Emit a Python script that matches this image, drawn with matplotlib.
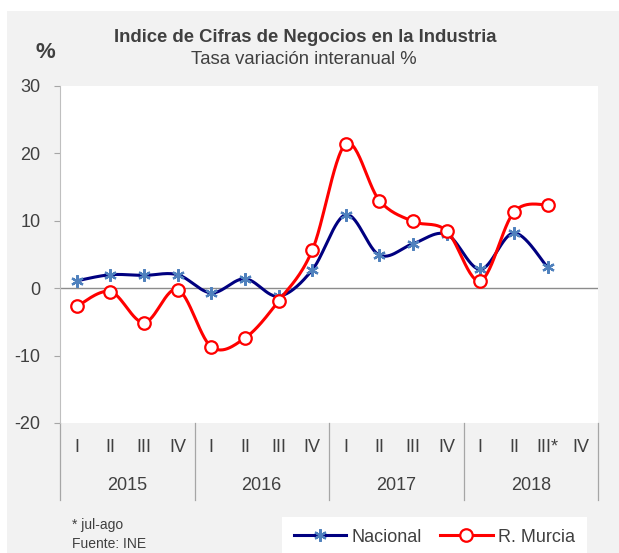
import numpy as np
import matplotlib
matplotlib.use("Agg")
import matplotlib.pyplot as plt
from matplotlib.patches import Rectangle
from matplotlib.lines import Line2D
import matplotlib.transforms as mtransforms

plt.rcParams['font.family'] = ['Liberation Sans', 'DejaVu Sans']

years = ["2015", "2016", "2017", "2018"]
quarters = ["I", "II", "III", "IV", "I", "II", "III", "IV",
            "I", "II", "III", "IV", "I", "II", "III*", "IV"]
nacional = [1.1, 2.0, 1.9, 2.0, -0.7, 1.4, -1.2, 2.7,
            10.9, 4.9, 6.6, 8.0, 2.8, 8.2, 3.1]
murcia = [-2.7, -0.5, -5.1, -0.2, -8.7, -7.4, -1.9, 5.6,
          21.4, 13.0, 9.9, 8.5, 1.1, 11.3, 12.4]
yticks = [-20, -10, 0, 10, 20, 30]

TXT = "#404040"


def smooth(y, n=30):
    """Catmull-Rom (Excel-like) smoothing between consecutive points."""
    y = np.asarray(y, float)
    x = np.arange(len(y), dtype=float)
    P = np.column_stack([x, y])
    out = []
    for i in range(len(P) - 1):
        p0 = P[i - 1] if i > 0 else P[i]
        p1, p2 = P[i], P[i + 1]
        p3 = P[i + 2] if i + 2 < len(P) else P[i + 1]
        c1 = p1 + (p2 - p0) / 6.0
        c2 = p2 - (p3 - p1) / 6.0
        t = np.linspace(0, 1, n)[:, None]
        seg = ((1 - t) ** 3) * p1 + 3 * ((1 - t) ** 2) * t * c1 + 3 * (1 - t) * t ** 2 * c2 + t ** 3 * p2
        out.append(seg if i == 0 else seg[1:])
    s = np.vstack(out)
    return s[:, 0], s[:, 1]


W, H = 619, 553
fig = plt.figure(figsize=(W / 100, H / 100), dpi=100)
fig.patch.set_facecolor("white")
fig.patches.append(Rectangle((7 / W, 0), 1 - 7 / W, 1 - 11 / H, transform=fig.transFigure,
                             facecolor="#F2F2F2", edgecolor="none", zorder=-10))

ax_l, ax_r, ax_t, ax_b = 60, 598, 86, 423
ax = fig.add_axes([ax_l / W, 1 - ax_b / H, (ax_r - ax_l) / W, (ax_b - ax_t) / H])
ax.set_facecolor("white")
ax.set_xlim(-0.5, len(quarters) - 0.5)
ax.set_ylim(-20, 30)
ax.set_yticks(yticks)
ax.set_yticklabels([str(v) for v in yticks])
ax.tick_params(axis="y", length=4, width=0.8, color="#A6A6A6", pad=10, labelsize=13, labelcolor=TXT)
ax.set_xticks([])
for s in ["top", "right", "bottom"]:
    ax.spines[s].set_visible(False)
ax.spines["left"].set_color("#BFBFBF")
ax.spines["left"].set_linewidth(0.8)
ax.axhline(0, color="#8C8C8C", lw=1.0, zorder=1)

xs, ys = smooth(nacional)
ax.plot(xs, ys, color="#000080", lw=2.2, zorder=3, solid_capstyle="round")
ax.plot(np.arange(len(nacional)), nacional, ls="none", marker=(6, 2, 0), ms=9,
        mew=1.6, mec="#4F81BD", color="#4F81BD", zorder=4)
xs, ys = smooth(murcia)
ax.plot(xs, ys, color="#FF0000", lw=2.2, zorder=5, solid_capstyle="round")
ax.plot(np.arange(len(murcia)), murcia, ls="none", marker="o", ms=9,
        mfc="white", mec="#FF0000", mew=1.6, zorder=6)

# multi-level category axis
trans = mtransforms.blended_transform_factory(ax.transData, ax.transAxes)
h = ax_b - ax_t
q_y = (ax_b - 448) / h
y_y = (ax_b - 486) / h
sep_y = (ax_b - 500) / h
for i, q in enumerate(quarters):
    ax.text(i, q_y, q, transform=trans, ha="center", va="center", fontsize=13,
            color=TXT, clip_on=False)
for j, yr in enumerate(years):
    ax.text(4 * j + 1.5, y_y, yr, transform=trans, ha="center", va="center", fontsize=13,
            color=TXT, clip_on=False)
for b in [-0.5, 3.5, 7.5, 11.5, 15.5]:
    ax.add_line(Line2D([b, b], [0, sep_y], transform=trans, color="#A6A6A6", lw=0.9,
                       clip_on=False))

# titles
fig.text(305 / W, 1 - 37 / H, "Indice de Cifras de Negocios en la Industria", ha="center",
         va="center", fontsize=13.3, fontweight="bold", color=TXT)
fig.text(304 / W, 1 - 59 / H, "Tasa variación interanual %", ha="center", va="center",
         fontsize=13.3, color=TXT)
fig.text(45 / W, 1 - 53 / H, "%", ha="center", va="center", fontsize=16, fontweight="bold",
         color=TXT)

# footnotes
fig.text(72 / W, 1 - 525 / H, "* jul-ago", ha="left", va="center", fontsize=10, color=TXT)
fig.text(72 / W, 1 - 544 / H, "Fuente: INE", ha="left", va="center", fontsize=10, color=TXT)

# legend
fig.patches.append(Rectangle((282 / W, 0), (587 - 282) / W, 1 - 517 / H, transform=fig.transFigure,
                             facecolor="white", edgecolor="none", zorder=-5))
h1 = Line2D([], [], color="#000080", lw=2.2, marker=(6, 2, 0), ms=9, mew=1.6, mec="#4F81BD")
h2 = Line2D([], [], color="#FF0000", lw=2.2, marker="o", ms=9, mfc="white", mec="#FF0000", mew=1.6)
leg = fig.legend([h1, h2], ["Nacional", "R. Murcia"], loc="center", ncol=2,
                 bbox_to_anchor=(434.5 / W, 1 - 537 / H), frameon=False, fontsize=13,
                 handlelength=2.9, handletextpad=0.3, columnspacing=1.0, borderpad=0)
for t in leg.get_texts():
    t.set_color(TXT)

fig.savefig("out.png", dpi=100)
